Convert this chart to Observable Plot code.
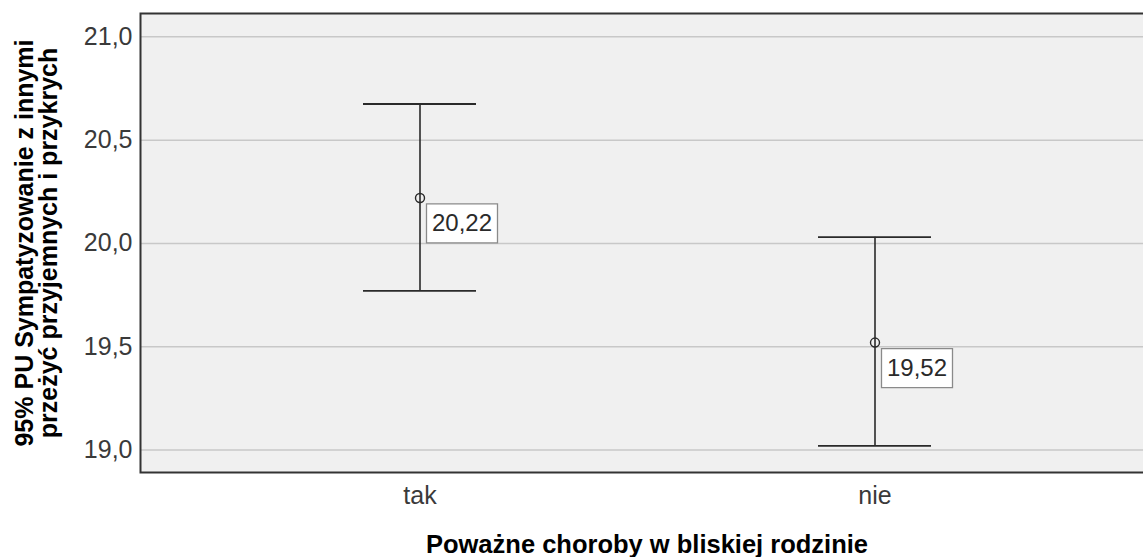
<!DOCTYPE html>
<html>
<head>
<meta charset="utf-8">
<script src="https://cdn.jsdelivr.net/npm/d3@7"></script>
<script src="https://cdn.jsdelivr.net/npm/@observablehq/plot@0.6"></script>
<style>
  html, body { margin: 0; padding: 0; background: #ffffff; }
  #chart svg { display: block; }
</style>
</head>
<body>
<div id="chart"></div>
<script>
const categories = ["tak", "nie"];
const means = [20.22, 19.52];
const lowerCI = [19.77, 19.02];
const upperCI = [20.675, 20.03];
const yTicks = [19.0, 19.5, 20.0, 20.5, 21.0];
const xTitle = "Poważne choroby w bliskiej rodzinie";
const yTitle = "95% PU Sympatyzowanie z innymi\nprzeżyć przyjemnych i przykrych";

const data = categories.map((c, i) => ({cat: c, mean: means[i], lo: lowerCI[i], hi: upperCI[i]}));
const comma = (f) => (v) => d3.format(f)(v).replace(".", ",");

const boxSymbol = {
  draw(context) {
    const w = 35.5, h = 19.5;
    context.moveTo(-w, -h);
    context.lineTo(w, -h);
    context.lineTo(w, h);
    context.lineTo(-w, h);
    context.closePath();
  }
};

const font = "'Liberation Sans', Arial, sans-serif";

const chart = Plot.plot({
  width: 1143,
  height: 557,
  marginLeft: 140,
  marginRight: -10,
  marginTop: 13,
  marginBottom: 85,
  style: {fontFamily: font, background: "#ffffff", overflow: "hidden"},
  x: {type: "band", domain: categories, paddingInner: 0.752, paddingOuter: 0.488, axis: null},
  y: {domain: [18.891, 21.113], axis: null},
  marks: [
    Plot.frame({fill: "#f0f0f0", stroke: null}),
    Plot.gridY(yTicks, {stroke: "#c8c8c8", strokeOpacity: 1, strokeWidth: 1.5}),
    Plot.frame({stroke: "#333333", strokeWidth: 2, fill: null}),
    Plot.axisY({ticks: yTicks, tickSize: 0, tickPadding: 8, tickFormat: comma(".1f"), fontSize: 25, color: "#3a3a3a", label: null}),
    Plot.axisX({tickSize: 0, tickPadding: 14, fontSize: 25, color: "#3a3a3a", label: null}),
    Plot.ruleX(data, {x: "cat", y1: "lo", y2: "hi", stroke: "#2a2a2a", strokeWidth: 1.6}),
    Plot.tickY(data, {x: "cat", y: "lo", stroke: "#2a2a2a", strokeWidth: 1.8}),
    Plot.tickY(data, {x: "cat", y: "hi", stroke: "#2a2a2a", strokeWidth: 1.8}),
    Plot.dot(data, {x: "cat", y: "mean", r: 4.5, stroke: "#2a2a2a", fill: "none", strokeWidth: 1.4}),
    Plot.dot(data, {x: "cat", y: "mean", symbol: boxSymbol, fill: "#ffffff", stroke: "#8a8a8a", strokeWidth: 1.3, dx: 42, dy: 25.5}),
    Plot.text(data, {x: "cat", y: "mean", text: (d) => comma(".2f")(d.mean), dx: 42, dy: 25.5, fontSize: 24, fill: "#2a2a2a", textAnchor: "middle", lineAnchor: "middle"}),
    Plot.text([xTitle], {frameAnchor: "bottom", dy: 72, textAnchor: "middle", lineAnchor: "middle", fontSize: 25.5, fontWeight: "bold", fill: "#000000"}),
    Plot.text([yTitle], {frameAnchor: "left", dx: -103, rotate: -90, textAnchor: "middle", lineAnchor: "middle", lineHeight: 0.96, fontSize: 25, fontWeight: "bold", fill: "#000000"})
  ]
});

document.getElementById("chart").appendChild(chart);
</script>
</body>
</html>
